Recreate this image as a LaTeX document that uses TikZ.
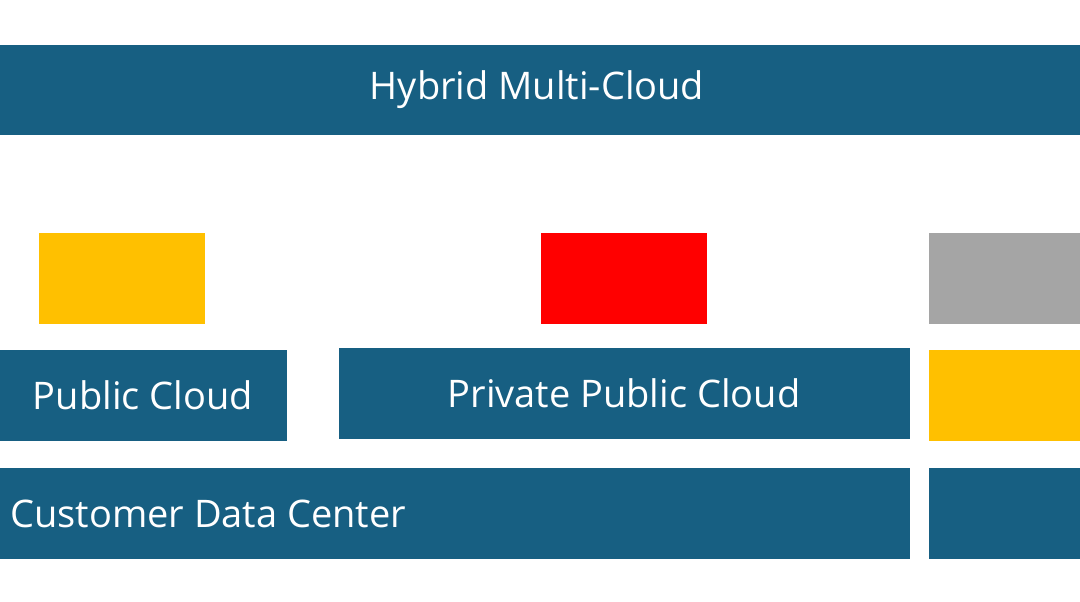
\documentclass[tikz,border=0pt]{standalone}
\usepackage{fontspec}
\setmainfont{Open Sans}
\definecolor{layerblue}{HTML}{175F82}
\definecolor{tileyellow}{HTML}{FFC000}
\definecolor{tilered}{HTML}{FF0000}
\definecolor{tilegray}{HTML}{A5A5A5}
\begin{document}
\begin{tikzpicture}[x=1pt, y=-1pt,
    layer/.style={fill=layerblue},
    label/.style={text=white, font=\fontsize{38}{44}\selectfont, inner sep=0pt}
]
    \useasboundingbox (0,0) rectangle (1080,602);
    \clip (0,0) rectangle (1080,602);

    % layers
    \fill[layer] (-10,45) rectangle (1090,135);
    \node[label] (hybrid) at (537,90) {Hybrid Multi-Cloud};

    \fill[layer] (-10,350) rectangle (287,441);
    \node[label, anchor=east] (public) at (253,395) {Public Cloud};

    \fill[layer] (339,348) rectangle (910,439);
    \node[label] (private) at (624,393) {Private Public Cloud};

    \fill[layer] (-10,468) rectangle (910,559);
    \node[label, anchor=west] (customer) at (10,514) {Customer Data Center};

    \fill[layer] (929,468) rectangle (1090,559);

    % tiles
    \fill[tileyellow] (39,233) rectangle (205,324);
    \fill[tilered] (541,233) rectangle (707,324);
    \fill[tilegray] (929,233) rectangle (1090,324);
    \fill[tileyellow] (929,350) rectangle (1090,441);
\end{tikzpicture}
\end{document}
